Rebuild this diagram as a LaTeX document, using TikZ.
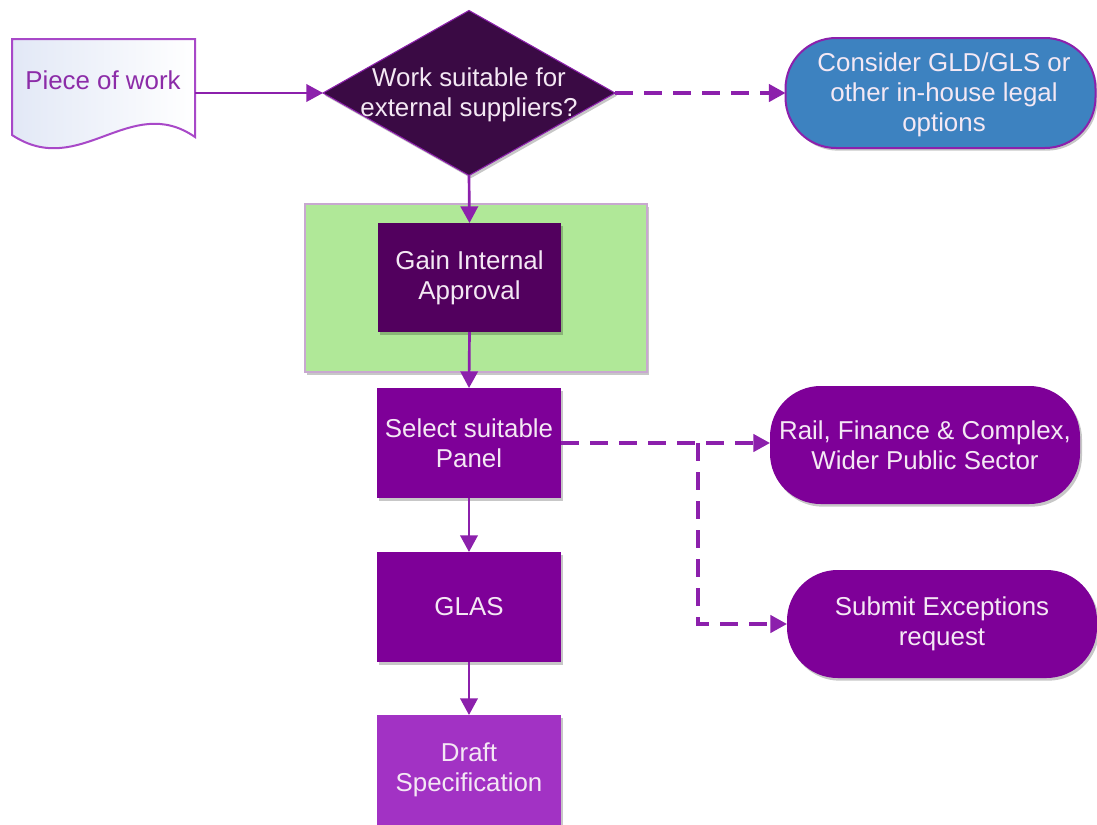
\documentclass[tikz,border=0pt]{standalone}
\usepackage{fontspec}
\setmainfont{Liberation Sans}
\usetikzlibrary{arrows.meta,shapes.geometric,shadows}

\definecolor{flowline}{HTML}{8C20AC}
\definecolor{decfill}{HTML}{3A0A44}
\definecolor{approvefill}{HTML}{52005E}
\definecolor{stepfill}{HTML}{7E0098}
\definecolor{draftfill}{HTML}{A232C4}
\definecolor{bluefill}{HTML}{3D82C0}
\definecolor{greenfill}{HTML}{B0E898}
\definecolor{greenborder}{HTML}{C8A8D0}
\definecolor{lighttext}{HTML}{F4E8F4}
\definecolor{doctextcol}{HTML}{8C2CA8}
\definecolor{docborder}{HTML}{A848C8}
\definecolor{docshade}{HTML}{E2E8F6}

\begin{document}
\begin{tikzpicture}[x=0.75pt,y=-0.75pt,
  every node/.style={font=\fontsize{19.4pt}{22.5pt}\selectfont, align=center, inner sep=0pt, outer sep=0pt},
  softshadow/.style={drop shadow={shadow xshift=1.5pt, shadow yshift=-2pt, opacity=0.22, fill=black}},
  stepbox/.style={rectangle, minimum width=138pt, minimum height=82.5pt, text=lighttext, softshadow},
  endbox/.style={rectangle, rounded corners=38pt, minimum width=232.5pt, text=lighttext, softshadow},
  flow/.style={draw=flowline, line width=2pt, -{Triangle[length=12.5pt,width=13pt]}},
  optflow/.style={flow, line width=2.6pt, dash pattern=on 13.5pt off 8.25pt},
]
% page
\fill[white] (0,0) rectangle (1097,825);
\useasboundingbox (0,0) rectangle (1097,825);

% document symbol
\draw[draw=docborder, line width=1.5pt, left color=docshade, right color=white]
  (12,39) -- (195,39) -- (195,137) .. controls (130,92) and (80,180) .. (12,135) -- cycle;
\node[minimum width=137.25pt, minimum height=72pt] (doc) at (103.5,87) {};
\node[text=doctextcol] (doctext) at (103,80) {Piece of work};

% decision
\node[diamond, fill=decfill, draw=flowline, line width=0.8pt,
      minimum width=219pt, minimum height=123.75pt, softshadow] (dec) at (469,93) {};
\node[text=lighttext] (dectext) at (469,95) {Work suitable for\\external suppliers?};

% in-house option
\node[endbox, fill=bluefill, draw=flowline, line width=1.5pt, minimum height=82.5pt]
  (inhouse) at (940.5,93) {};
\node[text=lighttext] (inhousetext) at (944,95) {Consider GLD/GLS or\\other in-house legal\\options};

% approval panel
\node[draw=greenborder, fill=greenfill, line width=1pt, minimum width=256.5pt,
      minimum height=126pt, softshadow] (panel) at (476,288) {};
\node[stepbox, fill=approvefill, minimum width=137.25pt, minimum height=81.75pt]
  (approve) at (469.5,277.5) {Gain Internal\\Approval};

% main steps
\node[stepbox, fill=stepfill] (select) at (469,443) {Select suitable\\Panel};
\node[stepbox, fill=stepfill] (glas) at (469,607) {GLAS};
\node[stepbox, fill=draftfill] (draft) at (469,770) {Draft\\Specification};

% other routes
\node[endbox, fill=stepfill, minimum height=88.5pt] (panels) at (925,445)
  {Rail, Finance \& Complex,\\Wider Public Sector};
\node[endbox, fill=stepfill, minimum height=81pt] (except) at (942,624)
  {Submit Exceptions\\request};

% connectors
\draw[flow] (doc.east |- dec.west) -- (dec.west);
\draw[optflow] (dec.east) -- (inhouse.west);
\draw[flow] (dec.south) -- (approve.north);
\draw[flow] (approve.south) -- (select.north);
\draw[flow] (select.south) -- (glas.north);
\draw[flow] (glas.south) -- (draft.north);
\coordinate (fork) at (698,443);
\draw[optflow] (select.east) -- (select.east -| panels.west);
\draw[optflow] (fork |- select.east) -- (fork |- except.west) -- (except.west);
\end{tikzpicture}
\end{document}
